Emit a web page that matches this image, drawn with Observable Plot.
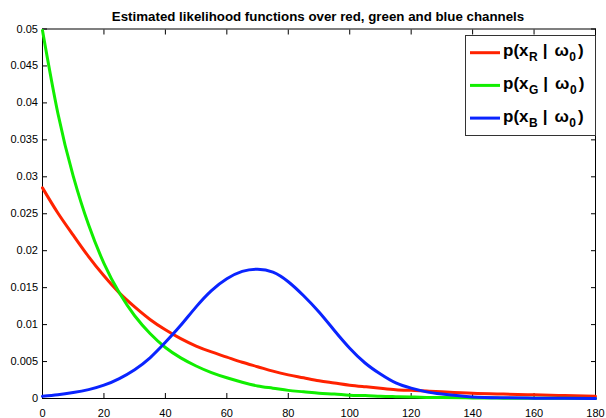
<!DOCTYPE html>
<html>
<head>
<meta charset="utf-8">
<script src="https://cdn.jsdelivr.net/npm/d3@7"></script>
<script src="https://cdn.jsdelivr.net/npm/@observablehq/plot@0.6"></script>
<style>
  html, body { margin: 0; padding: 0; background: #fff; }
  #wrap { position: relative; width: 606px; height: 418px; font-family: "Liberation Sans", Arial, sans-serif; }
  #wrap > svg.legend { position: absolute; left: 465px; top: 35px; }
</style>
</head>
<body>
<div id="wrap"></div>
<script>
const title = "Estimated likelihood functions over red, green and blue channels";
const xTicks = [0, 20, 40, 60, 80, 100, 120, 140, 160, 180];
const yTicks = [0, 0.005, 0.01, 0.015, 0.02, 0.025, 0.03, 0.035, 0.04, 0.045, 0.05];

const xs = [0, 5, 10, 15, 20, 25, 30, 35, 40, 45, 50, 55, 60, 65, 70, 75, 80, 85, 90, 95,
            100, 105, 110, 115, 120, 125, 130, 140, 150, 160, 170, 180];
const redValues = [0.0285, 0.0251, 0.0221, 0.0192, 0.0166, 0.0143, 0.0124, 0.0107, 0.0093, 0.0081,
                   0.0071, 0.0063, 0.0056, 0.0049, 0.0043, 0.0037, 0.0032, 0.0028, 0.0024, 0.0021,
                   0.0018, 0.0016, 0.0014, 0.0012, 0.0011, 0.0010, 0.0009, 0.0007, 0.0006, 0.0005, 0.0004, 0.0003];
const greenValues = [0.0498, 0.0386, 0.0301, 0.0235, 0.0183, 0.0143, 0.0112, 0.0088, 0.0069, 0.0055,
                     0.0044, 0.0035, 0.0028, 0.0022, 0.0017, 0.0014, 0.0011, 0.0009, 0.0007, 0.0006,
                     0.00045, 0.0004, 0.0003, 0.00025, 0.0002, 0.00015, 0.00012, 0.00008, 0.00005, 0.00003, 0.00002, 0.00001];
const blueValues = [0.0003, 0.0005, 0.0008, 0.0012, 0.0018, 0.0027, 0.0039, 0.0055, 0.0076, 0.0099,
                    0.0124, 0.0146, 0.0162, 0.0172, 0.0175, 0.0171, 0.0158, 0.0139, 0.0117, 0.0092,
                    0.0068, 0.0048, 0.0033, 0.0021, 0.0014, 0.0009, 0.0006, 0.0002, 0.0001, 0.00005, 0.00002, 0.00001];

const seriesKeys = ["R", "G", "B"];
const seriesColors = ["#ff2200", "#11ee00", "#0a24ff"];
const seriesValues = [redValues, greenValues, blueValues];

const series = seriesKeys.map((key, k) => ({
  key, color: seriesColors[k],
  data: xs.map((x, i) => ({x, y: seriesValues[k][i]}))
}));

const fmt = d => String(d);

const chart = Plot.plot({
  width: 606,
  height: 418,
  marginLeft: 42,
  marginRight: 11,
  marginTop: 28.5,
  marginBottom: 20,
  style: {fontFamily: "'Liberation Sans', Arial, sans-serif", fontSize: "11px", color: "#000", background: "#fff", overflow: "visible"},
  x: {domain: [0, 180], label: null},
  y: {domain: [0, 0.05], label: null},
  marks: [
    Plot.frame({stroke: "#000", strokeWidth: 1}),
    Plot.axisX(xTicks, {anchor: "bottom", tickSize: -5, tickPadding: 15.5, tickFormat: fmt, label: null, stroke: "#000"}),
    Plot.axisX(xTicks, {anchor: "top", tickSize: -5, tickFormat: () => "", label: null, stroke: "#000"}),
    Plot.axisY(yTicks, {anchor: "left", tickSize: -5, tickPadding: 9.5, tickFormat: fmt, label: null, stroke: "#000"}),
    Plot.axisY(yTicks, {anchor: "right", tickSize: -5, tickFormat: () => "", label: null, stroke: "#000"}),
    ...series.map(s => Plot.line(s.data, {x: "x", y: "y", stroke: s.color, strokeWidth: 3, curve: "natural"})),
    Plot.text([title], {frameAnchor: "top", dy: -7.8, dx: -1, lineAnchor: "bottom", fontWeight: "bold", fontSize: 13.3, fill: "#000"})
  ]
});
document.getElementById("wrap").appendChild(chart);

// Legend
const legend = d3.select("#wrap").append("svg")
  .attr("class", "legend")
  .attr("width", 131).attr("height", 101)
  .style("font-family", "'Liberation Sans', Arial, sans-serif");
legend.append("rect").attr("x", 0.5).attr("y", 0.5).attr("width", 130).attr("height", 100)
  .attr("fill", "#fff").attr("stroke", "#333");
series.forEach((s, i) => {
  const cy = 17.7 + i * 32.7;
  legend.append("line").attr("x1", 5).attr("x2", 35).attr("y1", cy).attr("y2", cy)
    .attr("stroke", s.color).attr("stroke-width", 3);
  const t = legend.append("text").attr("x", 38).attr("y", cy + 3.5)
    .attr("font-size", 17).attr("font-weight", "bold").attr("fill", "#000");
  t.append("tspan").text("p(x");
  t.append("tspan").attr("font-size", 12).attr("dy", 5).attr("dx", 0.5).text(s.key);
  t.append("tspan").attr("dy", -5).attr("dx", 5).text("|");
  t.append("tspan").attr("dx", 7).text("ω");
  t.append("tspan").attr("font-size", 12).attr("dy", 5).attr("dx", 0.5).text("0");
  t.append("tspan").attr("dy", -5).attr("dx", 2).text(")");
});
</script>
</body>
</html>
